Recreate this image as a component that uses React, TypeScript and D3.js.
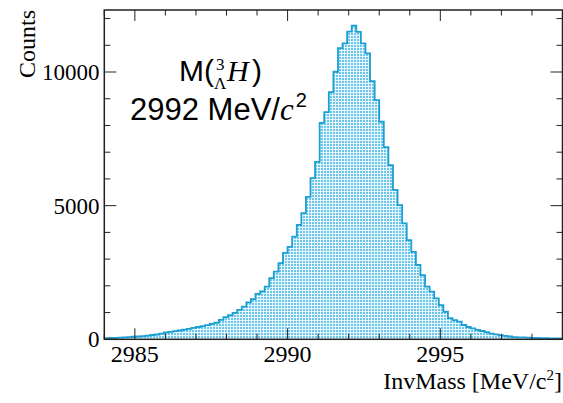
import React from "react";
import * as d3 from "d3";

const xDomain = [2984, 2999];
const yDomain = [0, 12320];
const binWidth = 0.15;
const counts = [
  45, 50, 55, 60, 70, 80, 95, 105, 120, 140,
  160, 180, 210, 255, 280, 305, 330, 360, 390, 425,
  460, 495, 530, 575, 620, 730, 830, 900, 990, 1100,
  1220, 1380, 1500, 1700, 1790, 1970, 2290, 2530, 2850, 3230,
  3460, 3840, 4280, 4720, 5330, 6030, 6640, 8100, 8500, 9250,
  10010, 10890, 11070, 11510, 11730, 11500, 11070, 10700, 9660, 8950,
  8140, 7190, 6520, 5590, 5020, 4340, 3710, 3270, 2780, 2400,
  1970, 1780, 1530, 1280, 1030, 790, 720, 660, 535, 460,
  410, 350, 310, 270, 215, 185, 155, 125, 105, 85,
  75, 70, 60, 55, 50, 45, 40, 35, 30, 30,
];
const xMajorTicks = [2985, 2990, 2995];
const xMinorTicks = d3.range(2984, 3000, 1);
const yMajorTicks = [0, 5000, 10000];
const yMinorTicks = d3.range(0, 13000, 1000);
const xTitle = "InvMass [MeV/c";
const yTitle = "Counts";

const L = 104.3, R = 562.5, T = 10, B = 339.3;

export default function App() {
  const x = d3.scaleLinear().domain(xDomain).range([L, R]);
  const y = d3.scaleLinear().domain(yDomain).range([B, T]);
  const pts = counts.map((c, i) => ({ x0: xDomain[0] + i * binWidth, c }));
  const ptsEnd = [...pts, { x0: xDomain[0] + counts.length * binWidth, c: counts[counts.length - 1] }];
  const area = d3.area<any>().x((d) => x(d.x0)).y0(y(0)).y1((d) => y(d.c)).curve(d3.curveStepAfter);
  const line = d3.line<any>().x((d) => x(d.x0)).y((d) => y(d.c)).curve(d3.curveStepAfter);
  const stroke = "#1c9fd3";
  const axisColor = "#222";
  const sans = "'Liberation Sans', Arial, sans-serif";
  const serif = "'Liberation Serif', 'Times New Roman', serif";
  const mx = 179;
  return (
    <svg width={563} height={403} style={{ position: "absolute", left: 0, top: 0, background: "#fff" }}>
      <defs>
        <pattern id="hatch" width={3} height={3} patternUnits="userSpaceOnUse">
          <rect width={3} height={3} fill="#e6f6fc" />
          <rect width={2} height={2} fill="#6cc6ea" />
        </pattern>
      </defs>
      <path d={area(ptsEnd) || ""} fill="url(#hatch)" />
      <path d={line(ptsEnd) || ""} fill="none" stroke={stroke} strokeWidth={1.8} />
      <rect x={L} y={T} width={R - L} height={B - T} fill="none" stroke={axisColor} strokeWidth={1.5} />
      {xMinorTicks.map((t) => {
        const major = xMajorTicks.includes(t);
        const len = major ? 11 : 5.5;
        return (
          <g key={"xt" + t}>
            <line x1={x(t)} x2={x(t)} y1={B} y2={B - len} stroke={axisColor} strokeWidth={1} />
            <line x1={x(t)} x2={x(t)} y1={T} y2={T + len} stroke={axisColor} strokeWidth={1} />
          </g>
        );
      })}
      {yMinorTicks.filter((t) => y(t) >= T).map((t) => {
        const major = yMajorTicks.includes(t);
        const len = major ? 12 : 6;
        return (
          <g key={"yt" + t}>
            <line x1={L} x2={L + len} y1={y(t)} y2={y(t)} stroke={axisColor} strokeWidth={1} />
            <line x1={R} x2={R - len} y1={y(t)} y2={y(t)} stroke={axisColor} strokeWidth={1} />
          </g>
        );
      })}
      <g fontFamily={serif} fontSize={24} fill="#000">
        {xMajorTicks.map((t) => (
          <text key={"xl" + t} x={x(t)} y={361.5} textAnchor="middle">{t}</text>
        ))}
        {yMajorTicks.map((t) => (
          <text key={"yl" + t} x={99.5} y={y(t) + 8} textAnchor="end" fontSize={23}>{t}</text>
        ))}
        <text x={562} y={389} textAnchor="end" fontSize={24}>
          {xTitle}
          <tspan dy={-9} fontSize={15}>2</tspan>
          <tspan dy={9}>]</tspan>
        </text>
        <text transform="translate(35,10) rotate(-90)" textAnchor="end" fontSize={24}>{yTitle}</text>
      </g>
      <g fill="#000">
        <text x={mx} y={81} fontFamily={sans} fontSize={30}>M(</text>
        <text x={mx + 37} y={70} fontFamily={serif} fontSize={17}>3</text>
        <text x={mx + 35} y={89} fontFamily={serif} fontSize={17}>Λ</text>
        <text x={mx + 48} y={81} fontFamily={serif} fontSize={30} fontStyle="italic">H</text>
        <text x={mx + 73} y={81} fontFamily={sans} fontSize={30}>)</text>
        <text x={130} y={120} fontFamily={sans} fontSize={31}>
          2992 MeV/
          <tspan fontFamily={serif} fontStyle="italic">c</tspan>
          <tspan dx={2} dy={-13} fontSize={20}>2</tspan>
        </text>
      </g>
    </svg>
  );
}
